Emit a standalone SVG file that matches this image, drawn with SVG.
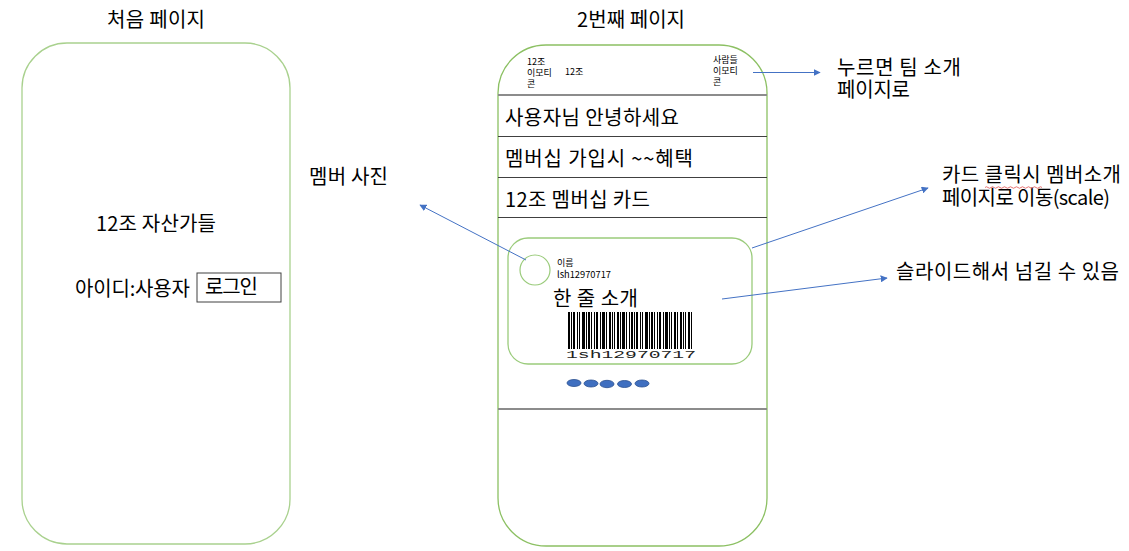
<svg xmlns="http://www.w3.org/2000/svg" width="1129" height="551" viewBox="0 0 1129 551">
<style>
  text { font-family: "Noto Sans CJK KR", "Noto Sans", sans-serif; fill: #000; }
  .big { font-size: 20px; }
  .small { font-size: 9px; }
  .phoneL { fill: #fff; stroke: #a9d18e; stroke-width: 1.3; }
  .phoneR { fill: #fff; stroke: #8cc063; stroke-width: 1.3; }
  .card { fill: #fff; stroke: #9acb7b; stroke-width: 1.3; }
  .sep { stroke: #404040; stroke-width: 1; }
  .sepg { stroke: #8c8c8c; stroke-width: 2.2; }
  .conn { stroke: #4472c4; stroke-width: 1; fill: none; marker-end: url(#arr); }
  .dot { fill: #3f6fc0; stroke: #2a4f8f; stroke-width: 0.8; }
</style>
<defs>
  <marker id="arr" viewBox="0 0 10 10" refX="9" refY="5" markerWidth="7" markerHeight="7" orient="auto" markerUnits="userSpaceOnUse">
    <path d="M0,0 L10,5 L0,10 z" fill="#4472c4"/>
  </marker>
</defs>
<rect width="1129" height="551" fill="#fff"/>

<g id="page1">
  <text class="big" x="107" y="27" textLength="98">처음 페이지</text>
  <rect class="phoneL" x="22" y="43" width="268" height="501" rx="45" ry="45"/>
  <text class="big" x="96" y="231" textLength="120">12조 자산가들</text>
  <text class="big" x="75" y="296" textLength="115">아이디:사용자</text>
  <g id="login">
    <rect x="197" y="273" width="84" height="29" fill="#fff" stroke="#404040" stroke-width="1"/>
    <text class="big" x="205" y="294" textLength="53">로그인</text>
  </g>
</g>

<g id="page2">
  <text class="big" x="577" y="27" textLength="108">2번째 페이지</text>
  <rect class="phoneR" x="498" y="45" width="269" height="501" rx="48" ry="48"/>
  <g id="header">
    <text class="small" x="527" y="65">12조<tspan x="527" dy="11">이모티</tspan><tspan x="527" dy="11">콘</tspan></text>
    <text class="small" x="565" y="75">12조</text>
    <text class="small" x="713" y="63">사람들<tspan x="713" dy="11">이모티</tspan><tspan x="713" dy="11">콘</tspan></text>
  </g>
  <line class="sepg" x1="498" y1="95" x2="767" y2="95"/>
  <text class="big" x="505" y="125" textLength="174">사용자님 안녕하세요</text>
  <line class="sep" x1="498" y1="136.5" x2="767" y2="136.5"/>
  <text class="big" x="505" y="166" textLength="188">멤버십 가입시 ~~혜택</text>
  <line class="sep" x1="498" y1="177.5" x2="767" y2="177.5"/>
  <text class="big" x="505" y="207" textLength="145">12조 멤버십 카드</text>
  <line class="sep" x1="498" y1="217.5" x2="767" y2="217.5"/>

  <g id="member-card">
    <rect class="card" x="508" y="238" width="244" height="126" rx="20" ry="20"/>
    <circle cx="535" cy="270" r="15" fill="#fff" stroke="#9acb7b" stroke-width="1.2"/>
    <text class="small" x="557" y="266">이름</text>
    <text x="557" y="278" style="font-size:9.5px" textLength="54" lengthAdjust="spacingAndGlyphs">lsh12970717</text>
    <text class="big" x="553" y="306" textLength="85">한 줄 소개</text>
    <path fill="#000" d="M568 312h2v37h-2zM571 312h1v37h-1zM573 312h2v37h-2zM577 312h1v37h-1zM579 312h1v37h-1zM582 312h3v37h-3zM586 312h1v37h-1zM588 312h2v37h-2zM591 312h1v37h-1zM594 312h1v37h-1zM596 312h2v37h-2zM600 312h1v37h-1zM602 312h3v37h-3zM606 312h1v37h-1zM609 312h2v37h-2zM612 312h1v37h-1zM614 312h1v37h-1zM617 312h2v37h-2zM620 312h1v37h-1zM622 312h3v37h-3zM626 312h1v37h-1zM629 312h1v37h-1zM631 312h2v37h-2zM634 312h1v37h-1zM636 312h2v37h-2zM640 312h1v37h-1zM642 312h1v37h-1zM645 312h3v37h-3zM649 312h1v37h-1zM651 312h2v37h-2zM654 312h1v37h-1zM657 312h1v37h-1zM659 312h2v37h-2zM663 312h1v37h-1zM665 312h3v37h-3zM669 312h1v37h-1zM671 312h1v37h-1zM674 312h2v37h-2zM677 312h1v37h-1zM680 312h2v37h-2zM683 312h1v37h-1zM685 312h1v37h-1zM688 312h2v37h-2zM691 312h1v37h-1z"/>
    <text x="566" y="358" style="font-family:'Liberation Mono','DejaVu Sans Mono',monospace;font-size:10.5px;fill:#222" textLength="130" lengthAdjust="spacingAndGlyphs">1sh12970717</text>
  </g>

  <g id="pager">
    <ellipse class="dot" cx="574" cy="383" rx="7" ry="3.5"/>
    <ellipse class="dot" cx="591" cy="383.5" rx="7" ry="3.5"/>
    <ellipse class="dot" cx="607" cy="384" rx="7" ry="3.7"/>
    <ellipse class="dot" cx="624.5" cy="384" rx="7" ry="3.5"/>
    <ellipse class="dot" cx="642" cy="383.5" rx="7" ry="3.5"/>
  </g>
  <line class="sepg" x1="498" y1="409" x2="767" y2="409"/>
</g>

<g id="notes">
  <text class="big" x="837" y="75"><tspan x="837" y="75" textLength="124">누르면 팀 소개</tspan><tspan x="837" y="97" textLength="73">페이지로</tspan></text>
  <text class="big" x="309" y="184" textLength="79">멤버 사진</text>
  <text class="big" x="942" y="182"><tspan x="942" y="182" textLength="179">카드 클릭시 멤버소개</tspan><tspan x="942" y="205" textLength="168">페이지로 이동(scale)</tspan></text>
  <path d="M985 187.5 q1.5 -1.5 3 0 t3 0 t3 0 t3 0 t3 0 t3 0 t3 0 t3 0 t3 0 t3 0 t3 0 t3 0 t3 0 t3 0 t3 0 t3 0 t3 0 t3 0 t3 0" fill="none" stroke="#e05050" stroke-width="0.8"/>
  <text class="big" x="896" y="279" textLength="223">슬라이드해서 넘길 수 있음</text>
</g>

<g id="connectors">
  <line class="conn" x1="753" y1="72.5" x2="820" y2="72.5"/>
  <line class="conn" x1="526" y1="260" x2="420" y2="205"/>
  <line class="conn" x1="752" y1="248" x2="928" y2="188"/>
  <line class="conn" x1="722" y1="299" x2="887" y2="278"/>
</g>
</svg>
